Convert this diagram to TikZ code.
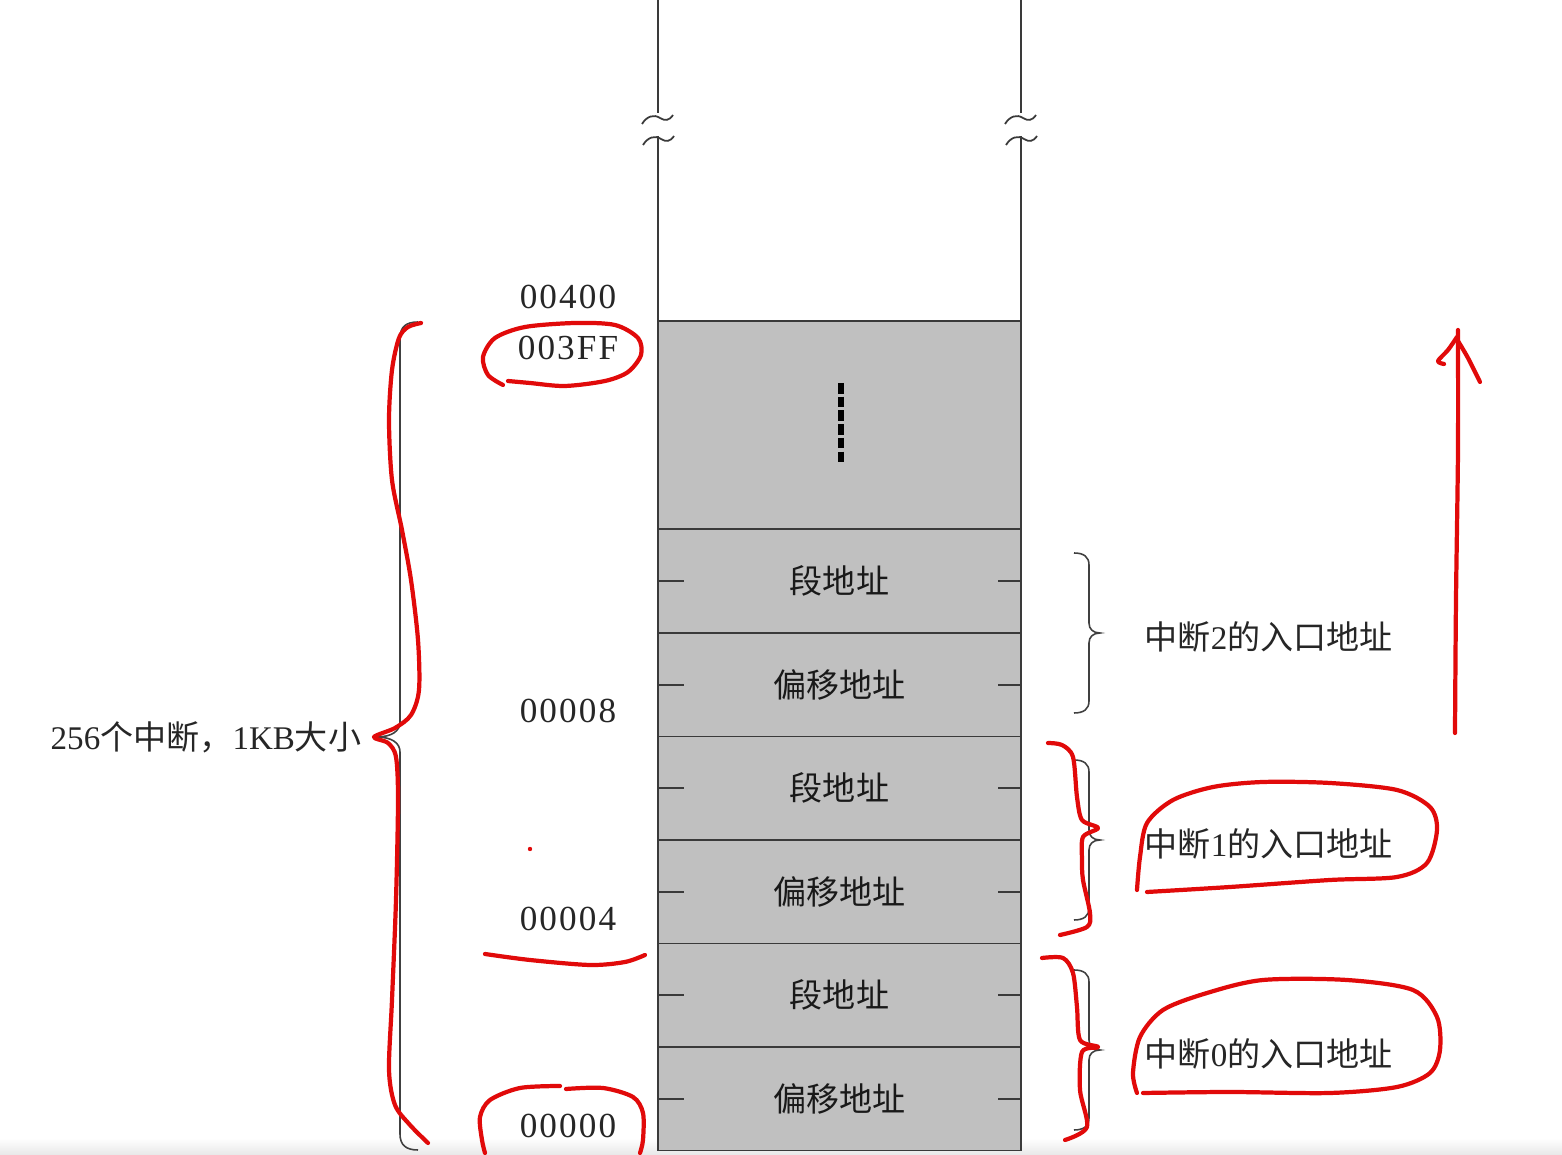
\documentclass[tikz,border=0pt]{standalone}
\usepackage{fontspec}
\setmainfont{Liberation Serif}
\newfontfamily\addrfont[LetterSpace=6]{Liberation Serif}
\newfontfamily\cjk{Noto Sans CJK SC}
\definecolor{cellgray}{HTML}{C0C0C0}
\definecolor{inkgray}{HTML}{3A3A3A}
\definecolor{penred}{HTML}{E10A0A}
\begin{document}
\begin{tikzpicture}[x=0.01cm,y=-0.01cm,
	cell/.style={draw=inkgray,line width=0.5pt,fill=cellgray,minimum width=3.63cm,
		minimum height=1.035cm,inner sep=0pt,text=black!90,font=\cjk\fontsize{9.4}{11}\selectfont},
	addr/.style={inner sep=0pt,text=black!85,font=\addrfont\fontsize{10}{12}\selectfont},
	entry/.style={anchor=west,inner sep=0pt,text=black!85,font=\fontsize{9.4}{11}\selectfont},
	wall/.style={inkgray,line width=0.5pt},
	curly/.style={black!75,line width=0.45pt},
	pen/.style={penred,line width=1.2pt,line cap=round,line join=round}]
	\useasboundingbox (0,0) rectangle (1562,1155);
	% screen edge
	\shade[top color=white,bottom color=black!9] (0,1138) rectangle (1562,1155);
	% memory column
	\node[cell,minimum height=2.08cm] (blk) at (839.5,425) {};
	\foreach \i/\txt in {0/偏移地址,1/段地址,2/偏移地址,3/段地址,4/偏移地址,5/段地址}{
		\node[cell] (c\i) at (839.5,{1098.75-103.5*\i}) {\txt};
		\draw[wall] (c\i.west) -- ++(27,0);
		\draw[wall] (c\i.east) -- ++(-24,0);
	}
	\draw[black,line width=1.8pt,dash pattern=on 3pt off 0.9pt] (841,383) -- (841,463);
	\foreach \x in {658,1021}{
		\draw[wall] (\x,0) -- (\x,113);
		\draw[wall] (\x,136) -- (\x,321);
		\draw[wall] (\x-16,124) .. controls (\x-11,116) and (\x-4,114) .. (\x+2,118)
			.. controls (\x+7,121) and (\x+11,121) .. (\x+15,115);
		\draw[wall] (\x-15,145) .. controls (\x-10,137) and (\x-3,135) .. (\x+3,139)
			.. controls (\x+8,142) and (\x+12,142) .. (\x+16,136);
	}
	% addresses
	\node[addr] (a400) at (568,297) {00400};
	\node[addr] (a3ff) at (568,348) {003FF};
	\node[addr] (a8) at (568,711) {00008};
	\node[addr] (a4) at (568,919) {00004};
	\node[addr] (a0) at (568,1126) {00000};
	% braces
	\draw[curly] (418,322) .. controls (406,322) and (400,327) .. (400,338) -- (400,722)
		.. controls (400,731) and (392,737) .. (376,737)
		.. controls (392,737) and (400,743) .. (400,752) -- (400,1134)
		.. controls (400,1145) and (406,1150) .. (418,1150);
	\node[entry] (total) at (50,737) {256{\cjk 个中断，}1KB{\cjk 大小}};
	\foreach \t/\b/\n in {553/713/2,760/920/1,970/1130/0}{
		\pgfmathsetmacro\m{(\t+\b)/2}
		\draw[curly] (1074,\t) .. controls (1084,\t) and (1089,\t+4) .. (1089,\t+12) -- (1089,\m-10)
			.. controls (1089,\m-4) and (1093,\m) .. (1100,\m)
			.. controls (1093,\m) and (1089,\m+4) .. (1089,\m+10) -- (1089,\b-12)
			.. controls (1089,\b-4) and (1084,\b) .. (1074,\b);
		\node[entry] (int\n) at (1144,\m+4) {{\cjk 中断}\n{\cjk 的入口地址}};
	}
	% red pen notes
	\draw[pen] plot[smooth] coordinates {(503,385) (488,375) (483,357) (495,338) (525,327)
		(575,323) (615,325) (638,338) (641,355) (628,372) (605,381) (565,386) (530,383) (508,381)};
	\draw[pen] plot[smooth] coordinates {(560,1086) (520,1088) (490,1100) (480,1117) (482,1140) (485,1153)};
	\draw[pen] plot[smooth] coordinates {(566,1089) (603,1088) (633,1097) (643,1113) (643,1140) (640,1153)};
	\draw[pen] plot[smooth] coordinates {(485,954) (530,960) (590,965) (625,962) (645,955)};
	\fill[penred] (530,849) circle[radius=2.2];
	\draw[pen] plot[smooth] coordinates {(421,323) (408,327) (399,338) (392,370) (389,420)
		(392,480) (402,530) (411,580) (418,640) (419,690) (411,715) (395,728) (374,737)
		(388,743) (396,757) (398,800) (396,900) (392,1000) (389,1070) (395,1105) (410,1125) (428,1143)};
	\draw[pen] plot[smooth] coordinates {(1048,743) (1062,745) (1073,757) (1077,797) (1082,820)
		(1098,828) (1083,837) (1082,860) (1083,880) (1090,913) (1087,927) (1060,935)};
	\draw[pen] plot[smooth] coordinates {(1042,958) (1063,958) (1073,973) (1077,1007) (1080,1040)
		(1098,1047) (1082,1052) (1080,1090) (1087,1127) (1065,1140)};
	\draw[pen] plot[smooth] coordinates {(1137,890) (1140,857) (1147,823) (1173,800) (1213,787)
		(1263,782) (1330,783) (1397,790) (1430,807) (1437,830) (1427,863) (1397,877) (1330,880)
		(1230,887) (1147,892)};
	\draw[pen] plot[smooth] coordinates {(1137,1093) (1133,1073) (1140,1037) (1163,1010) (1207,993)
		(1263,980) (1347,980) (1413,990) (1437,1017) (1440,1050) (1430,1073) (1397,1087)
		(1330,1093) (1230,1092) (1143,1093)};
	\draw[pen] plot[smooth] coordinates {(1455,733) (1456,600) (1458,450) (1458,330)};
	\draw[pen] plot[smooth] coordinates {(1457,337) (1448,350) (1438,361) (1444,364)};
	\draw[pen] plot[smooth] coordinates {(1458,341) (1468,358) (1480,382)};
\end{tikzpicture}
\end{document}
